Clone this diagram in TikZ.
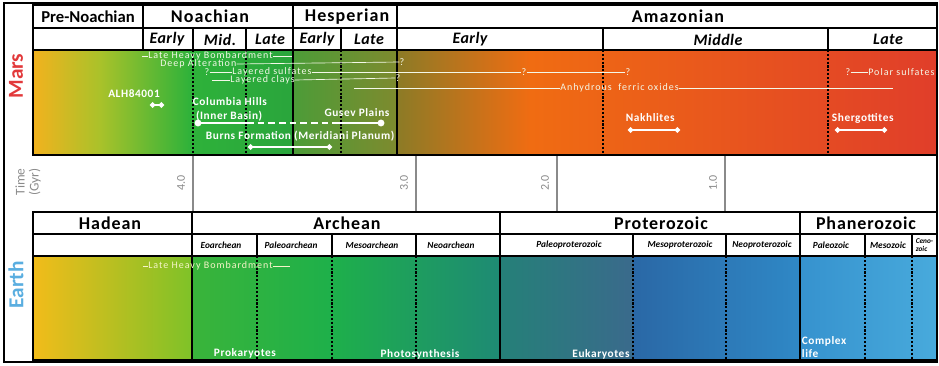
\documentclass[tikz,border=0pt]{standalone}
\usepackage{fontspec}
\setmainfont{Carlito}
\usetikzlibrary{arrows.meta,positioning}
\definecolor{MarsRed}{HTML}{E2393B}
\definecolor{EarthBlue}{HTML}{5AAEE0}
\definecolor{TimeGray}{HTML}{8A8A8A}
\definecolor{Pale}{HTML}{F4F8E8}
\definecolor{PaleYellow}{HTML}{F6F4C8}
% Mars band stops
\definecolor{MarsA}{HTML}{F2B21E}
\definecolor{MarsB}{HTML}{A9C22A}
\definecolor{MarsC}{HTML}{2EB23A}
\definecolor{MarsD}{HTML}{2AA53C}
\definecolor{MarsE}{HTML}{4C9C38}
\definecolor{MarsF}{HTML}{7E8A2E}
\definecolor{MarsG}{HTML}{8C7B26}
\definecolor{MarsH}{HTML}{F06C12}
\definecolor{MarsI}{HTML}{E03E2A}
% Earth band stops
\definecolor{EarthA}{HTML}{F2BC1A}
\definecolor{EarthB}{HTML}{7EC228}
\definecolor{EarthC}{HTML}{3AB43A}
\definecolor{EarthD}{HTML}{1EB04A}
\definecolor{EarthE}{HTML}{1E8A74}
\definecolor{EarthF}{HTML}{258078}
\definecolor{EarthG}{HTML}{3A6A8C}
\definecolor{EarthH}{HTML}{2A68A6}
\definecolor{EarthI}{HTML}{2F88C6}
\definecolor{EarthJ}{HTML}{3692CE}
\definecolor{EarthK}{HTML}{48AADC}
\begin{document}
\begin{tikzpicture}[x=0.75pt,y=-0.75pt,
  cell/.style={draw,line width=1.5pt,fill=white},
  era/.style={font=\bfseries\fontsize{13.5}{13.5}\selectfont\addfontfeatures{LetterSpace=6}},
  eera/.style={font=\bfseries\fontsize{13.5}{13.5}\selectfont\addfontfeatures{LetterSpace=5}},
  sub/.style={font=\bfseries\itshape\fontsize{12}{12}\selectfont\addfontfeatures{LetterSpace=3}},
  esub/.style={font=\bfseries\itshape\fontsize{7}{7}\selectfont,inner sep=0.5pt},
  note/.style={text=Pale,font=\fontsize{7.5}{7.5}\selectfont\addfontfeatures{LetterSpace=10},inner sep=0pt},
  bnote/.style={text=white,font=\bfseries\fontsize{8.5}{8.5}\selectfont\addfontfeatures{LetterSpace=5},inner sep=0.5pt},
  trace/.style={Pale,line width=0.5pt},
  span/.style={white,line width=1.3pt,{Circle[length=4pt]}-{Circle[length=4pt]}},
  dotsep/.style={line width=1.6pt,dash pattern=on 1.6pt off 1.3pt},
  hardsep/.style={line width=2pt},
  tick/.style={TimeGray,line width=1.2pt},
  side/.style={rotate=90,font=\bfseries\fontsize{16}{16}\selectfont}]

\useasboundingbox (0,0) rectangle (939,365);
\draw[line width=0.9pt] (4,3) rectangle (937,362);

% Mars colour band
\shade[left color=MarsA,right color=MarsB] (33,50) rectangle (100.5,155);
\shade[left color=MarsB,right color=MarsC] (100,50) rectangle (190.5,155);
\shade[left color=MarsC,right color=MarsD] (190,50) rectangle (293.5,155);
\shade[left color=MarsE,right color=MarsF] (293,50) rectangle (397.5,155);
\shade[left color=MarsG,right color=MarsH] (397,50) rectangle (530.5,155);
\shade[left color=MarsH,right color=MarsI] (530,50) rectangle (937,155);
\foreach \x in {193,246,341,603,828}
  \draw[dotsep] (\x,50) -- (\x,155);
\foreach \x in {293,397}
  \draw[hardsep] (\x,50) -- (\x,155);
\draw[line width=1.6pt] (33,50) rectangle (937,155);

% Mars header rows
\draw[cell] (33,5) rectangle (143,28) node[era,font=\bfseries\fontsize{12.5}{12.5}\selectfont] (mera-33) at (88,16.5) {Pre-Noachian};
\foreach \xa/\xb/\xt/\lab in {143/293/210/Noachian,293/397/347/Hesperian,397/937/678/Amazonian}
  \draw[cell] (\xa,5) rectangle (\xb,28) node[era] (mera-\xa) at (\xt,16.5) {\lab};
\draw[cell] (33,28) rectangle (143,50);
\foreach \xa/\xb/\xt/\lab in {143/193/167/Early,193/246/220/Mid.,246/293/270/Late,293/341/317/Early,341/397/369/Late,397/603/470/Early,603/828/718/Middle,828/937/888/Late}
  \draw[cell] (\xa,28) rectangle (\xb,50) node[sub] (msub-\xa) at (\xt,39.5) {\lab};

% Mars notes
\node[note,anchor=west] (lhbM) at (148,56) {Late Heavy Bombardment};
\coordinate (lhbMa) at (142,56);
\coordinate (lhbMb) at (292,56);
\draw[trace] (lhbMa) -- (lhbM.west);
\draw[trace] (lhbM.east) -- (lhbMb);

\node[note,anchor=west] (deep) at (160,64) {Deep Alteration};
\node[note] (deepq) at (402,62) {?};
\draw[trace] (deep.east) -- (deepq.west);

\node[note] (sulfq) at (207,72) {?};
\node[note,anchor=west] (sulf) at (232,72) {Layered sulfates};
\node[note] (sulfq2) at (524,72) {?};
\node[note] (sulfq3) at (628,72) {?};
\draw[trace] (sulfq.east) -- (sulf.west);
\draw[trace] (sulf.east) -- (sulfq2.west);
\draw[trace] (sulfq2.east) -- (sulfq3.west);

\coordinate (clayA) at (212,80);
\node[note,anchor=west] (clay) at (230,80) {Layered clays};
\node[note] (clayq) at (398,78) {?};
\draw[trace] (clayA) -- (clay.west);
\draw[trace] (clay.east) -- (clayq.west);

\coordinate (ferA) at (354,88);
\coordinate (ferB) at (893,88);
\node[note,anchor=west] (fer) at (560,88) {Anhydrous\ \ ferric oxides};
\draw[trace] (ferA) -- (fer.west);
\draw[trace] (fer.east) -- (ferB);

\node[note] (polq) at (848,72) {?};
\node[note,anchor=west] (pol) at (868,72) {Polar sulfates};
\draw[trace] (polq.east) -- (pol.west);

\node[bnote] (alh) at (134,94) {ALH84001};
\coordinate (alhA) at (150,105);
\coordinate (alhB) at (164,105);
\draw[span] (alhA) -- (alhB);

\node[bnote,anchor=west,align=left,font=\bfseries\fontsize{8.5}{11}\selectfont\addfontfeatures{LetterSpace=5}] (colh) at (192,109.5) {Columbia Hills\\\ (Inner Basin)};
\node[bnote] (gus) at (357,113) {Gusev Plains};
\coordinate (gusA) at (198,123);
\coordinate (gusB) at (247,123);
\coordinate (gusC) at (337,123);
\coordinate (gusD) at (381,123);
\draw[white,line width=1.3pt] (gusA) -- (gusB);
\draw[white,line width=1.3pt,dash pattern=on 5pt off 3pt] (gusB) -- (gusC);
\draw[white,line width=1.3pt] (gusC) -- (gusD);
\fill[white] (gusA) circle (2.6pt) (gusD) circle (2.6pt);

\node[bnote,anchor=west] (burns) at (205,136) {Burns Formation (Meridiani Planum)};
\coordinate (burnA) at (248,147);
\coordinate (burnB) at (332,147);
\draw[span] (burnA) -- (burnB);

\node[bnote,anchor=west] (nakh) at (625,118) {Nakhlites};
\coordinate (nakhA) at (628,130);
\coordinate (nakhB) at (680,130);
\draw[span] (nakhA) -- (nakhB);

\node[bnote,anchor=west] (sherg) at (831,118) {Shergottites};
\coordinate (shergA) at (835,130);
\coordinate (shergB) at (887,130);
\draw[span] (shergA) -- (shergB);

\node[side,text=MarsRed] (mars) at (16,76) {Mars};

% time axis
\foreach \x/\t in {193/4.0,416/3.0,557/2.0,725/1.0}{
  \draw[tick] (\x,156) -- (\x,212);
  \node[rotate=90,text=TimeGray,font=\fontsize{9}{9}\selectfont] (t-\x) at (\x-12,183) {\t};}
\node[rotate=90,align=center,text=TimeGray,font=\fontsize{10}{10.5}\selectfont] (timelab) at (28,182) {Time\\(Gyr)};

% Earth colour band
\shade[left color=EarthA,right color=EarthB] (33,256) rectangle (192.5,360);
\shade[left color=EarthC,right color=EarthD] (192,256) rectangle (330.5,360);
\shade[left color=EarthD,right color=EarthE] (330,256) rectangle (500.5,360);
\shade[left color=EarthF,right color=EarthG] (500,256) rectangle (633.5,360);
\shade[left color=EarthH,right color=EarthI] (633,256) rectangle (800.5,360);
\shade[left color=EarthJ,right color=EarthK] (800,256) rectangle (937,360);
\foreach \x in {257,332,416,633,726,865,912}
  \draw[dotsep] (\x,256) -- (\x,360);
\foreach \x in {192,500,800}
  \draw[hardsep] (\x,256) -- (\x,360);
\draw[line width=1.6pt] (33,256) rectangle (937,360);

% Earth header rows
\foreach \xa/\xb/\xt/\lab in {33/192/110/Hadean,192/500/347/Archean,500/800/661/Proterozoic,800/937/866/Phanerozoic}
  \draw[cell] (\xa,212) rectangle (\xb,234) node[eera] (eera-\xa) at (\xt,223) {\lab};
\draw[cell] (33,234) rectangle (192,256);
\foreach \xa/\xb/\xt/\lab in {192/257/221/Eoarchean,257/332/291/Paleoarchean,332/416/372/Mesoarchean,416/500/451/Neoarchean,500/633/569/Paleoproterozoic,633/726/680/Mesoproterozoic,726/800/762/Neoproterozoic,800/865/831/Paleozoic,865/912/888/Mesozoic}
  \draw[cell] (\xa,234) rectangle (\xb,256) node[esub] (esub-\xa) at (\xt,245) {\lab};
\draw[cell] (912,234) rectangle (937,256);
\node[esub,align=left,font=\bfseries\itshape\fontsize{5.5}{6}\selectfont] (ceno) at (924.5,245) {Ceno-\\zoic};

% Earth notes
\coordinate (lhbEa) at (143,266);
\coordinate (lhbEb) at (290,266);
\node[note,text=PaleYellow,anchor=west] (lhbE) at (148,266) {Late Heavy Bombardment};
\draw[trace,PaleYellow] (lhbEa) -- (lhbE.west);
\draw[trace,PaleYellow] (lhbE.east) -- (lhbEb);

\node[bnote] (prok) at (245,353) {Prokaryotes};
\node[bnote] (photo) at (420,354) {Photosynthesis};
\node[bnote] (euk) at (601,354) {Eukaryotes};
\node[bnote,anchor=west,align=left,font=\bfseries\fontsize{8.5}{10}\selectfont\addfontfeatures{LetterSpace=5}] (cplx) at (801,347) {Complex\\life};

\node[side,text=EarthBlue] (earth) at (16,285) {Earth};
\end{tikzpicture}
\end{document}
